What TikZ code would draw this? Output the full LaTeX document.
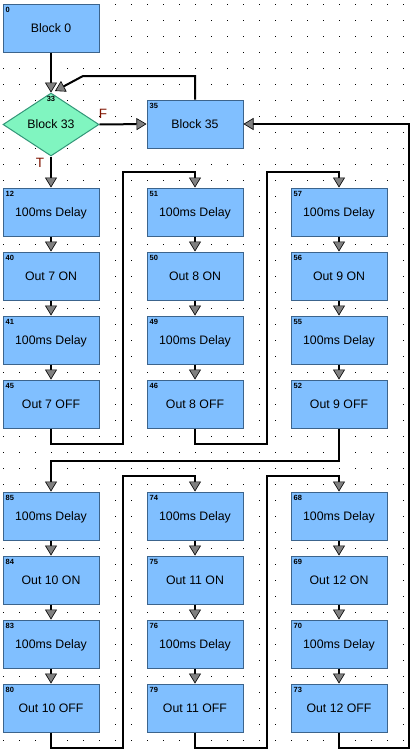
\documentclass[tikz,border=0pt]{standalone}
\usepackage{fontspec}
\setmainfont{Liberation Sans}
\usetikzlibrary{shapes.geometric,arrows.meta}

\definecolor{blkfill}{RGB}{128,191,255}
\definecolor{blkline}{RGB}{60,100,140}
\definecolor{decfill}{RGB}{128,245,192}
\definecolor{decline}{RGB}{50,150,120}
\definecolor{tipgray}{RGB}{128,128,128}
\definecolor{tfred}{RGB}{128,20,0}

\tikzset{
  blk/.style={draw=blkline, fill=blkfill, line width=1pt, minimum width=96pt,
    minimum height=48pt, inner sep=0pt, font=\fontsize{12.3}{14}\selectfont,
    text height=8.8pt, text depth=0pt},
  dec/.style={diamond, draw=decline, fill=decfill, line width=1pt,
    minimum width=96pt, minimum height=63pt, inner sep=0pt,
    font=\fontsize{12.3}{14}\selectfont, text height=8.8pt, text depth=0pt},
  num/.style={font=\fontsize{7.5}{8}\selectfont\bfseries, inner sep=0pt,
    anchor=north west, xshift=3pt, yshift=-4pt},
  tf/.style={text=tfred, font=\fontsize{13.5}{15}\selectfont, inner sep=0pt},
  wire/.style={line width=2pt},
  flow/.style={line width=2pt,
    -{Triangle[length=10pt,width=12pt,fill=tipgray,line width=0.6pt]}},
}

\begin{document}
\begin{tikzpicture}[x=1pt,y=-1pt]
  \fill [white] (0,0) rectangle (415,753);
  \useasboundingbox (0,0) rectangle (415,753);

  % Grid
  \foreach \i in {0,...,25}
    \foreach \j in {0,...,46}
      \fill (3+16*\i,4+16*\j) rectangle ++(1,1);

  % Top
  \node[blk, label={[num]north west:0}] (b0) at (51,28) {Block 0};
  \node[dec, label={[num,anchor=north,xshift=-3pt]north:33}] (b33) at (51,124.5) {Block 33};
  \node[blk, label={[num]north west:35}] (b35) at (195,124) {Block 35};

  % Column 1
  \node[blk, label={[num]north west:12}] (b12) at (51,212) {100ms Delay};
  \node[blk, label={[num]north west:40}] (b40) at (51,276) {Out 7 ON};
  \node[blk, label={[num]north west:41}] (b41) at (51,340) {100ms Delay};
  \node[blk, label={[num]north west:45}] (b45) at (51,404) {Out 7 OFF};
  \node[blk, label={[num]north west:85}] (b85) at (51,516) {100ms Delay};
  \node[blk, label={[num]north west:84}] (b84) at (51,580) {Out 10 ON};
  \node[blk, label={[num]north west:83}] (b83) at (51,644) {100ms Delay};
  \node[blk, label={[num]north west:80}] (b80) at (51,708) {Out 10 OFF};

  % Column 2
  \node[blk, label={[num]north west:51}] (b51) at (195,212) {100ms Delay};
  \node[blk, label={[num]north west:50}] (b50) at (195,276) {Out 8 ON};
  \node[blk, label={[num]north west:49}] (b49) at (195,340) {100ms Delay};
  \node[blk, label={[num]north west:46}] (b46) at (195,404) {Out 8 OFF};
  \node[blk, label={[num]north west:74}] (b74) at (195,516) {100ms Delay};
  \node[blk, label={[num]north west:75}] (b75) at (195,580) {Out 11 ON};
  \node[blk, label={[num]north west:76}] (b76) at (195,644) {100ms Delay};
  \node[blk, label={[num]north west:79}] (b79) at (195,708) {Out 11 OFF};

  % Column 3
  \node[blk, label={[num]north west:57}] (b57) at (339,212) {100ms Delay};
  \node[blk, label={[num]north west:56}] (b56) at (339,276) {Out 9 ON};
  \node[blk, label={[num]north west:55}] (b55) at (339,340) {100ms Delay};
  \node[blk, label={[num]north west:52}] (b52) at (339,404) {Out 9 OFF};
  \node[blk, label={[num]north west:68}] (b68) at (339,516) {100ms Delay};
  \node[blk, label={[num]north west:69}] (b69) at (339,580) {Out 12 ON};
  \node[blk, label={[num]north west:70}] (b70) at (339,644) {100ms Delay};
  \node[blk, label={[num]north west:73}] (b73) at (339,708) {Out 12 OFF};

  % Decision
  \coordinate (in33) at (55,91);
  \draw[flow] (b0.south) -- (b33.north);
  \draw[flow] (b35.north) |- (83,76) -- (in33);
  \draw[flow] (b33.east) -- (b35.west);
  \draw[flow] (b33.south) -- (b12.north);
  \node[tf] (lf) at (103,114) {F};
  \node[tf] (lt) at (40,163) {T};

  % Chains
  \foreach \a/\b in {b12/b40,b40/b41,b41/b45,b51/b50,b50/b49,b49/b46,
                     b57/b56,b56/b55,b55/b52,b85/b84,b84/b83,b83/b80,
                     b74/b75,b75/b76,b76/b79,b68/b69,b69/b70,b70/b73}
    \draw[flow] (\a.south) -- (\b.north);

  % Loops
  \draw[flow] (b45.south) -- ++(0,15) -| (123,172) -| (b51.north);
  \draw[flow] (b46.south) -- ++(0,15) -| (267,172) -| (b57.north);
  \draw[flow] (b52.south) -- ++(0,32) -| (b85.north);
  \draw[flow] (b80.south) -- ++(0,15) -| (123,476) -| (b74.north);
  \draw[flow] (b79.south) -- ++(0,15) -| (267,476) -| (b68.north);
  \draw[flow] (b73.south) -- ++(0,15) -| (409,124) -- (b35.east);
\end{tikzpicture}
\end{document}
